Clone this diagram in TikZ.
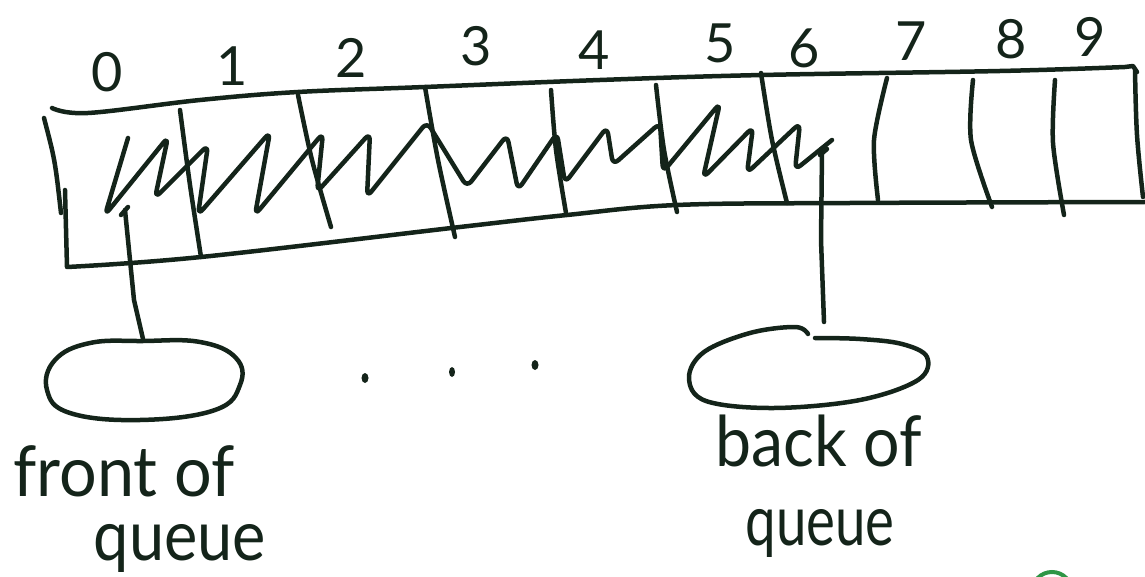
\documentclass[tikz,border=0pt]{standalone}
\usepackage{fontspec}
\setmainfont{Lato}
\definecolor{ink}{RGB}{20,36,26}
\definecolor{cursorgreen}{RGB}{46,150,70}
\begin{document}
\begin{tikzpicture}[x=1pt,y=-1pt,
  pen/.style={draw=ink,line width=4.5pt,line cap=round,line join=round},
  digit/.style={text=ink,inner sep=0pt,font=\fontsize{54}{54}\selectfont},
  hand/.style={text=ink,inner sep=0pt,anchor=base,font=\fontsize{70}{70}\selectfont}]
\useasboundingbox (0,0) rectangle (1145,577);
% array outline
\draw[pen] plot[smooth,tension=0.6] coordinates {(52,108)(88,113)(200,100)(298,92)(425,87)(600,80)(762,75)(1000,71)(1125,67)} -- (1133,66) -- (1137,72);
\draw[pen] plot[smooth,tension=0.6] coordinates {(1135,70)(1137,135)(1143,197)};
\draw[pen] (44,118) .. controls (55,160) .. (61,213);
\draw[pen] (65,190) -- (67,267) plot[smooth,tension=0.6] coordinates {(67,267)(201,257)(460,227)(567,215)(677,205)(850,203)(1145,202)};
% cell dividers
\draw[pen] plot[smooth] coordinates {(180,110)(190,185)(201,257)};
\draw[pen] plot[smooth] coordinates {(298,95)(312,160)(331,227)};
\draw[pen] plot[smooth] coordinates {(425,87)(438,160)(455,237)};
\draw[pen] plot[smooth] coordinates {(551,90)(556,150)(566,213)};
\draw[pen] plot[smooth] coordinates {(656,85)(664,150)(677,212)};
\draw[pen] plot[smooth] coordinates {(761,73)(772,140)(787,203)};
\draw[pen] plot[smooth] coordinates {(887,78)(874,140)(878,200)};
\draw[pen] plot[smooth] coordinates {(973,80)(971,140)(992,207)};
\draw[pen] plot[smooth] coordinates {(1055,80)(1053,143)(1064,215)};
% scribbles in filled cells
\draw[pen,rounded corners=7pt] (128,138) -- (105,215) -- (168,137) -- (155,198) -- (208,145) -- (198,215) -- (270,132) -- (255,215) -- (323,133) -- (317,192) -- (370,133) -- (367,197) -- (427,122) -- (467,187) -- (507,135) -- (518,190) -- (557,133) -- (565,183) -- (607,127) -- (613,165) -- (660,123) -- (663,172) -- (720,103) -- (703,178) -- (753,127) -- (747,173) -- (800,123) -- (795,170) -- (832,140);
% indices
\node[digit] (i0) at (107,72) {0};
\node[digit] (i1) at (232,66) {1};
\node[digit] (i2) at (351,58) {2};
\node[digit] (i3) at (476,46) {3};
\node[digit] (i4) at (594,50) {4};
\node[digit] (i5) at (720,43) {5};
\node[digit] (i6) at (804,48) {6};
\node[digit] (i7) at (911,41) {7};
\node[digit] (i8) at (1011,39) {8};
\node[digit] (i9) at (1090,37) {9};
% front pointer
\coordinate (fcell) at (125,210);
\coordinate (fbox) at (143,339);
\draw[pen] (121,215) -- (128,207);
\draw[pen] (fcell) -- (134,300) -- (fbox);
\draw[pen] plot[smooth cycle,tension=0.7] coordinates {(143,341)(200,342)(236,358)(240,385)(215,410)(140,420)(70,413)(47,390)(55,360)(90,343)};
% back pointer
\coordinate (bcell) at (822,152);
\coordinate (bbox) at (824,322);
\draw[pen] (827,149) -- (820,155);
\draw[pen] (bcell) -- (821,240) -- (bbox);
\draw[pen] plot[smooth,tension=0.6] coordinates {(808,334)(795,327)(750,333)(704,352)(689,378)(706,401)(774,408)(860,400)(918,380)(927,357)(902,344)(860,339)(815,338)};
% dots
\fill[ink] (365,378) ellipse [x radius=3.5pt,y radius=5pt];
\fill[ink] (452,372) ellipse [x radius=3pt,y radius=5pt];
\fill[ink] (535,365) ellipse [x radius=3.5pt,y radius=5pt];
% labels
\node[hand] (front1) at (124,496) {\scalebox{0.95}[1]{front of}};
\node[hand] (front2) at (180,560) {\scalebox{0.9}[1]{queue}};
\node[hand] (back1) at (819,466) {\scalebox{0.92}[1]{back of}};
\node[hand] (back2) at (820,545) {\scalebox{0.78}[1]{queue}};
% cursor mark at bottom edge
\begin{scope}
\clip (0,0) rectangle (1145,577);
\draw[cursorgreen,line width=4pt] (1052,592) circle (20pt);
\end{scope}
\end{tikzpicture}
\end{document}
